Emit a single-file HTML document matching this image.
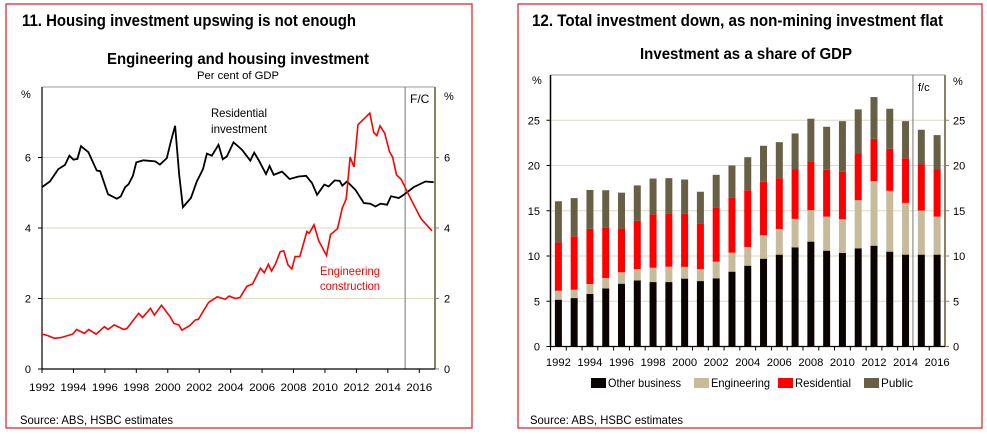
<!DOCTYPE html>
<html><head><meta charset="utf-8"><style>
html,body{margin:0;padding:0;background:#fff;}
svg{display:block;font-family:"Liberation Sans",Arial,sans-serif;}
</style></head><body>
<svg width="987" height="435" viewBox="0 0 987 435">
<g id="left">
  <rect x="6" y="4" width="466" height="424" fill="none" stroke="#e8141c" stroke-width="1.2"/>
  <text x="22" y="26" font-size="17" font-weight="bold" textLength="334" lengthAdjust="spacingAndGlyphs">11. Housing investment upswing is not enough</text>
  <text x="238" y="64" font-size="16" font-weight="bold" text-anchor="middle" textLength="262" lengthAdjust="spacingAndGlyphs">Engineering and housing investment</text>
  <text x="238" y="79" font-size="11" text-anchor="middle" textLength="82" lengthAdjust="spacingAndGlyphs">Per cent of GDP</text>
  <g id="lplot"></g>
  <text x="20" y="424" font-size="12" textLength="153" lengthAdjust="spacingAndGlyphs">Source: ABS, HSBC estimates</text>
</g>
<g id="right">
  <rect x="518" y="4" width="464" height="424" fill="none" stroke="#e8141c" stroke-width="1.2"/>
  <text x="532" y="26" font-size="17" font-weight="bold" textLength="411" lengthAdjust="spacingAndGlyphs">12. Total investment down, as non-mining investment flat</text>
  <text x="746" y="59" font-size="16" font-weight="bold" text-anchor="middle" textLength="212" lengthAdjust="spacingAndGlyphs">Investment as a share of GDP</text>
  <g id="rplot"></g>
  <text x="530" y="424" font-size="12" textLength="153" lengthAdjust="spacingAndGlyphs">Source: ABS, HSBC estimates</text>
</g>
</svg>
<script>
// ---- Left chart data ----
const resYears=[1992.0,1992.5,1993.04,1993.46,1993.74,1994.0,1994.25,1994.48,1994.95,1995.48,1995.7,1996.2,1996.76,1997.0,1997.29,1997.5,1997.78,1998.0,1998.45,1999.2,1999.5,1999.94,2000.2,2000.47,2000.73,2000.96,2001.47,2001.85,2002.24,2002.49,2002.8,2003.23,2003.5,2003.76,2004.18,2004.72,2005.25,2005.5,2005.78,2006.25,2006.48,2006.74,2007.27,2007.75,2008.33,2008.8,2009.18,2009.5,2009.96,2010.24,2010.62,2010.94,2011.1,2011.4,2011.94,2012.47,2012.89,2013.21,2013.53,2013.95,2014.2,2014.7,2015.0,2015.65,2016.39,2016.92];
const resValues=[5.16,5.32,5.67,5.79,6.05,5.94,5.96,6.32,6.15,5.63,5.61,4.96,4.83,4.89,5.16,5.24,5.48,5.86,5.92,5.89,5.80,5.98,6.46,6.90,5.51,4.59,4.85,5.32,5.67,6.11,6.05,6.36,5.95,6.03,6.43,6.22,5.91,6.14,5.93,5.53,5.76,5.51,5.6,5.39,5.46,5.48,5.27,4.94,5.23,5.18,5.35,5.34,5.2,5.32,5.08,4.71,4.69,4.61,4.69,4.66,4.9,4.85,4.94,5.16,5.32,5.3];
const engYears=[1992.0,1992.35,1992.78,1993.2,1993.95,1994.2,1994.7,1994.97,1995.44,1995.97,1996.2,1996.6,1997.2,1997.4,1998.15,1998.4,1998.9,1999.15,1999.6,2000.15,2000.4,2000.7,2000.9,2001.4,2001.75,2001.95,2002.6,2003.15,2003.65,2003.9,2004.3,2004.6,2005.04,2005.4,2005.9,2006.14,2006.4,2006.6,2006.84,2007.16,2007.38,2007.65,2007.9,2008.1,2008.4,2008.85,2009.0,2009.3,2009.6,2010.1,2010.35,2010.8,2011.1,2011.35,2011.6,2011.85,2012.1,2012.85,2013.1,2013.3,2013.5,2013.8,2014.1,2014.3,2014.55,2014.85,2015.5,2016.1,2016.8];
const engValues=[0.99,0.95,0.87,0.89,0.99,1.12,1.01,1.12,0.99,1.2,1.12,1.25,1.12,1.15,1.58,1.46,1.72,1.53,1.81,1.48,1.29,1.25,1.1,1.23,1.39,1.41,1.89,2.05,1.98,2.07,2.0,2.03,2.35,2.41,2.86,2.73,2.97,2.78,2.97,3.33,3.35,2.95,2.84,3.19,3.19,3.9,3.85,4.09,3.64,3.22,3.81,3.98,4.57,4.82,6.01,5.73,6.93,7.26,6.71,6.62,6.9,6.69,6.17,6.01,5.51,5.38,4.79,4.27,3.92];
const leftYTicks=[0,2,4,6];
const leftXTicks=[1992,1994,1996,1998,2000,2002,2004,2006,2008,2010,2012,2014,2016];
// ---- Right chart data ----
const barYears=[1992,1993,1994,1995,1996,1997,1998,1999,2000,2001,2002,2003,2004,2005,2006,2007,2008,2009,2010,2011,2012,2013,2014,2015,2016];
const otherBusiness=[5.17,5.35,5.8,6.42,6.94,7.3,7.12,7.12,7.5,7.23,7.53,8.27,8.93,9.7,10.15,10.96,11.59,10.59,10.33,10.85,11.14,10.48,10.15,10.15,10.15];
const engineering=[0.99,0.92,1.1,1.14,1.26,1.26,1.58,1.7,1.3,1.33,1.84,2.1,2.07,2.59,2.84,3.14,3.47,3.76,3.73,5.31,7.13,6.72,5.72,4.87,4.2];
const residential=[5.34,5.91,6.1,5.54,4.83,5.34,5.9,5.9,5.85,4.98,6.02,6.13,6.27,5.91,5.61,5.46,5.42,5.17,5.24,5.21,4.68,4.65,4.93,5.09,5.21];
const publicInv=[4.55,4.22,4.3,4.17,3.97,3.9,3.96,3.88,3.8,3.56,3.58,3.5,3.65,3.98,3.98,3.98,4.69,4.76,5.6,4.83,4.61,4.42,4.1,3.84,3.8];
const rightYTicks=[0,5,10,15,20,25];
const rightXTicks=[1992,1994,1996,1998,2000,2002,2004,2006,2008,2010,2012,2014,2016];

const NS="http://www.w3.org/2000/svg";
function mk(parent,tag,attrs,txt){const e=document.createElementNS(NS,tag);for(const k in attrs)e.setAttribute(k,attrs[k]);if(txt!==undefined)e.textContent=txt;parent.appendChild(e);return e;}

// Left chart
(function(){
const g=document.getElementById('lplot');
const L=42,R=435,T=87,B=369;
const x=yr=>L+(yr-1992)/(2017-1992)*(R-L);
const y=v=>B-v/8*(B-T);
mk(g,'line',{x1:L,y1:T,x2:R,y2:T,stroke:'#999','stroke-width':1});
for(const t of leftYTicks){
  if(t>0){const gl=mk(g,'line',{x1:L,y1:y(t),x2:R,y2:y(t),stroke:'#ddd8c2','stroke-width':1});
  
  }
  const a=mk(g,'text',{x:31,y:y(t)+4,'font-size':11,'text-anchor':'end'},t);
  
  
  const b=mk(g,'text',{x:444,y:y(t)+4,'font-size':11},t);
  
  
  mk(g,'line',{x1:L-4,y1:y(t),x2:L,y2:y(t),stroke:'#000'});
  mk(g,'line',{x1:R,y1:y(t),x2:R+4,y2:y(t),stroke:'#8b8060'});
}
const p1=mk(g,'text',{x:21,y:98,'font-size':11},'%');
const p2=mk(g,'text',{x:444,y:100,'font-size':11},'%');
// forecast line
const fc=mk(g,'line',{x1:x(2015.1),y1:T,x2:x(2015.1),y2:B,stroke:'#777','stroke-width':1});

const fct=mk(g,'text',{x:410,y:103,'font-size':12},'F/C');
for(const t of leftXTicks){
  mk(g,'line',{x1:x(t),y1:B,x2:x(t),y2:B+4,stroke:'#000'});
  const lb=mk(g,'text',{x:x(t),y:391,'font-size':11,'text-anchor':'middle',textLength:26,lengthAdjust:'spacingAndGlyphs'},t);
  
}
mk(g,'line',{x1:L,y1:T,x2:L,y2:B,stroke:'#000','stroke-width':1.2});
mk(g,'line',{x1:R,y1:T,x2:R,y2:B,stroke:'#8b8060','stroke-width':2});
mk(g,'line',{x1:L,y1:B,x2:R,y2:B,stroke:'#000','stroke-width':1.2});
const rp=resYears.map((yr,i)=>x(yr).toFixed(1)+','+y(resValues[i]).toFixed(1)).join(' ');
const rl=mk(g,'polyline',{points:rp,fill:'none',stroke:'#000','stroke-width':1.8});

const ep=engYears.map((yr,i)=>x(yr).toFixed(1)+','+y(engValues[i]).toFixed(1)).join(' ');
const el=mk(g,'polyline',{points:ep,fill:'none',stroke:'#ff0000','stroke-width':1.6});

const r1=mk(g,'text',{x:211,y:117,'font-size':12,textLength:56,lengthAdjust:'spacingAndGlyphs'},'Residential');
const r2=mk(g,'text',{x:211,y:133,'font-size':12,textLength:56,lengthAdjust:'spacingAndGlyphs'},'investment');
const e1=mk(g,'text',{x:320,y:275,'font-size':12,fill:'#ff0000',textLength:60,lengthAdjust:'spacingAndGlyphs'},'Engineering');
const e2=mk(g,'text',{x:320,y:290,'font-size':12,fill:'#ff0000',textLength:60,lengthAdjust:'spacingAndGlyphs'},'construction');
})();

// Right chart
(function(){
const g=document.getElementById('rplot');
const L=550.5,R=945,T=75,B=346.5;
const n=barYears.length, step=(R-L)/n;
const xc=i=>L+(i+0.5)*step;
const y=v=>B-v/30*(B-T);
mk(g,'line',{x1:L,y1:T,x2:R,y2:T,stroke:'#999'});
for(const t of rightYTicks){
  if(t>0){const gl=mk(g,'line',{x1:L,y1:y(t),x2:R,y2:y(t),stroke:'#ddd8c2'});
  }
  const a=mk(g,'text',{x:540,y:y(t)+4,'font-size':11,'text-anchor':'end'},t);
  
  const b=mk(g,'text',{x:953,y:y(t)+4,'font-size':11},t);
  
  mk(g,'line',{x1:L-4,y1:y(t),x2:L,y2:y(t),stroke:'#000'});
  mk(g,'line',{x1:R,y1:y(t),x2:R+4,y2:y(t),stroke:'#8b8060'});
}
const p1=mk(g,'text',{x:532,y:84,'font-size':11},'%');
const p2=mk(g,'text',{x:953,y:85,'font-size':11},'%');
const fx=L+23*step-0.5;
const fc=mk(g,'line',{x1:fx,y1:T,x2:fx,y2:B,stroke:'#777'});
const fct=mk(g,'text',{x:918,y:91,'font-size':11},'f/c');
const series=[[otherBusiness,'#0a0503','other-business'],[engineering,'#c6bc9c','engineering'],[residential,'#ff0000','residential'],[publicInv,'#686045','public']];
const bw=7;
for(let i=0;i<n;i++){
  let base=0;
  for(const [arr,col,nm] of series){
    const v=arr[i];
    const r=mk(g,'rect',{x:xc(i)-bw/2,y:y(base+v),width:bw,height:y(base)-y(base+v),fill:col});
    
    
    base+=v;
  }
  mk(g,'line',{x1:L+i*step,y1:B,x2:L+i*step,y2:B+4,stroke:'#000'});
}
for(const t of rightXTicks){
  const i=barYears.indexOf(t);
  const lb=mk(g,'text',{x:xc(i),y:366,'font-size':11,'text-anchor':'middle',textLength:25,lengthAdjust:'spacingAndGlyphs'},t);
  
}
mk(g,'line',{x1:L,y1:T,x2:L,y2:B,stroke:'#000','stroke-width':1.5});
mk(g,'line',{x1:R,y1:T,x2:R,y2:B,stroke:'#8b8060','stroke-width':2});
mk(g,'line',{x1:L,y1:B,x2:R,y2:B,stroke:'#000','stroke-width':1.2});
// legend
const leg=[['Other business','#0a0503',591,73],['Engineering','#c6bc9c',694,59],['Residential','#ff0000',778,56],['Public','#686045',864,32]];
for(const [lbl,col,lx,tw] of leg){
  const s=mk(g,'rect',{x:lx,y:378,width:15,height:10,fill:col});
  
  const t=mk(g,'text',{x:lx+17,y:387,'font-size':12,textLength:tw,lengthAdjust:'spacingAndGlyphs'},lbl);
  
}
})();
</script>
</body></html>
